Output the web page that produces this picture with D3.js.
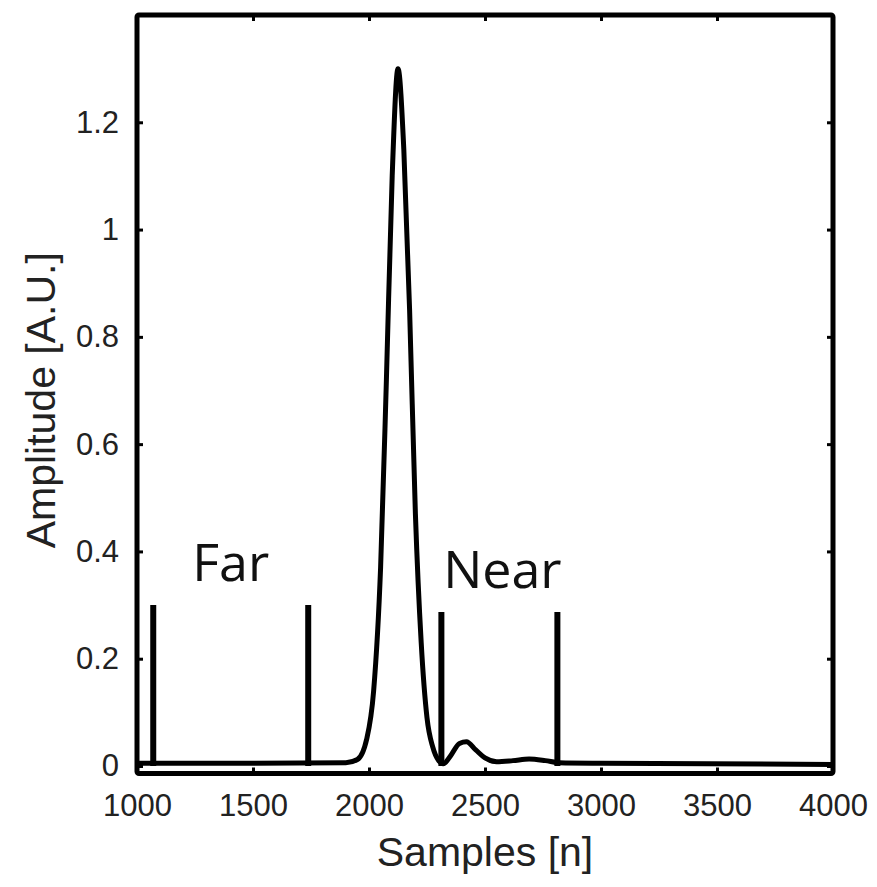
<!DOCTYPE html>
<html lang="en">
<head>
  <meta charset="UTF-8">
  <title>Amplitude vs samples</title>
  <script src="https://cdn.jsdelivr.net/npm/d3@7"></script>
  <style>
    body { margin: 0; background: #fff; }
    svg { display: block; }
    .tick text { font-family: "Liberation Sans", Arial, sans-serif; font-size: 31px; fill: #222; }
  </style>
</head>
<body>
<svg id="chart"></svg>
<script>
  const width = 877, height = 887;

  // data
  const samples = [1000, 1500, 1900, 1950, 1990, 2020, 2050, 2075, 2100, 2125, 2150, 2175, 2200, 2225,
    2250, 2275, 2300, 2320, 2350, 2390, 2420, 2460, 2500, 2550, 2620, 2690, 2760, 2820, 3000, 4000];
  const amplitude = [0.005, 0.005, 0.006, 0.012, 0.05, 0.14, 0.37, 0.72, 1.1, 1.3, 1.15, 0.85, 0.47, 0.23,
    0.09, 0.035, 0.01, 0.004, 0.018, 0.042, 0.045, 0.03, 0.015, 0.008, 0.01, 0.013, 0.01, 0.006, 0.005, 0.003];

  const gateLabels = ['Far', 'Near'];
  const gateStart = [1070, 2312];
  const gateEnd = [1738, 2812];
  const gateHeight = [0.30, 0.287];

  const xTicks = [1000, 1500, 2000, 2500, 3000, 3500, 4000];
  const yTicks = [0, 0.2, 0.4, 0.6, 0.8, 1, 1.2];

  const mLeft = 137, mRight = 833, mTop = 15, mBottom = 773.5;

  const svg = d3.select('#chart').attr('width', width).attr('height', height);

  const x = d3.scaleLinear().domain([1000, 4000]).range([mLeft, mRight]);
  const y = d3.scaleLinear().domain([-0.014, 1.4]).range([mBottom, mTop]);

  // axes, ticks pointing inward
  const tick = 6;
  svg.append('g')
    .attr('transform', `translate(0,${mBottom})`)
    .call(d3.axisBottom(x).tickValues(xTicks).tickSizeInner(-tick).tickSizeOuter(0).tickPadding(tick + 14).tickFormat(d3.format('d')))
    .call(g => g.select('.domain').remove());
  svg.append('g')
    .attr('transform', `translate(0,${mTop})`)
    .call(d3.axisTop(x).tickValues(xTicks).tickSizeInner(-tick).tickSizeOuter(0).tickFormat(''))
    .call(g => g.select('.domain').remove());
  svg.append('g')
    .attr('transform', `translate(${mLeft},0)`)
    .call(d3.axisLeft(y).tickValues(yTicks).tickSizeInner(-tick).tickSizeOuter(0).tickPadding(tick + 12).tickFormat(d3.format('~g')))
    .call(g => g.select('.domain').remove());
  svg.append('g')
    .attr('transform', `translate(${mRight},0)`)
    .call(d3.axisRight(y).tickValues(yTicks).tickSizeInner(-tick).tickSizeOuter(0).tickFormat(''))
    .call(g => g.select('.domain').remove());

  svg.selectAll('.tick line').attr('stroke', '#000').attr('stroke-width', 3);

  // curve
  const line = d3.line()
    .x((d, i) => x(samples[i]))
    .y(d => y(d))
    .curve(d3.curveMonotoneX);

  svg.append('path')
    .datum(amplitude)
    .attr('d', line)
    .attr('fill', 'none')
    .attr('stroke', '#000')
    .attr('stroke-width', 5)
    .attr('stroke-linejoin', 'round');

  // gate markers
  const gates = svg.append('g');
  gateLabels.forEach((label, i) => {
    [gateStart[i], gateEnd[i]].forEach(s => {
      gates.append('line')
        .attr('x1', x(s)).attr('x2', x(s))
        .attr('y1', y(0)).attr('y2', y(gateHeight[i]))
        .attr('stroke', '#000')
        .attr('stroke-width', 6);
    });
    gates.append('text')
      .attr('x', (x(gateStart[i]) + x(gateEnd[i])) / 2 + i * 3)
      .attr('y', y(gateHeight[i]) - 24)
      .attr('text-anchor', 'middle')
      .style('font-family', '"Open Sans", "Noto Sans", sans-serif')
      .style('font-size', '52px')
      .style('fill', '#111')
      .text(label);
  });

  // frame
  svg.append('rect')
    .attr('x', mLeft).attr('y', mTop)
    .attr('width', mRight - mLeft).attr('height', mBottom - mTop)
    .attr('fill', 'none')
    .attr('stroke', '#000')
    .attr('stroke-width', 5)
    .attr('rx', 2);

  // axis titles
  svg.append('text')
    .attr('x', (mLeft + mRight) / 2)
    .attr('y', 866)
    .attr('text-anchor', 'middle')
    .style('font-family', '"Liberation Sans", Arial, sans-serif')
    .style('font-size', '41px')
    .style('fill', '#222')
    .text('Samples [n]');

  svg.append('text')
    .attr('transform', `translate(55,${(mTop + mBottom) / 2 + 6}) rotate(-90)`)
    .attr('text-anchor', 'middle')
    .style('font-family', '"Liberation Sans", Arial, sans-serif')
    .style('font-size', '41px')
    .style('fill', '#222')
    .text('Amplitude [A.U.]');
</script>
</body>
</html>
